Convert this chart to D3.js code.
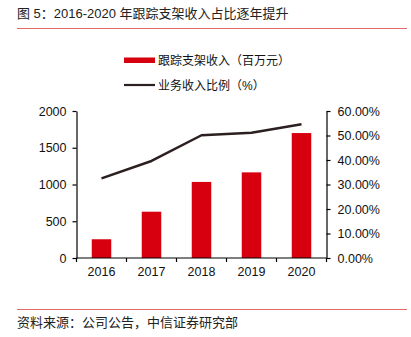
<!DOCTYPE html>
<html><head><meta charset="utf-8">
<script src="https://cdn.jsdelivr.net/npm/d3@7"></script>
<style>body{margin:0;background:#fff}svg{display:block}</style>
</head><body>
<svg id="c" width="411" height="337"></svg>
<script>
const years = ["2016","2017","2018","2019","2020"];
const revenue = [255, 630, 1035, 1165, 1700];
const share = [0.325, 0.396, 0.501, 0.511, 0.546];
const leftTicks = [0, 500, 1000, 1500, 2000];
const rightTicks = [0, 0.1, 0.2, 0.3, 0.4, 0.5, 0.6];
const titleText = "图 5：2016-2020 年跟踪支架收入占比逐年提升";
const sourceText = "资料来源：公司公告，中信证券研究部";
const legendLabels = ["跟踪支架收入（百万元）", "业务收入比例（%）"];

const svg = d3.select("#c");
const latin = "'Liberation Sans', Arial, 'Noto Sans CJK SC', sans-serif";
const cjk = "'Liberation Sans', 'Noto Sans CJK SC', sans-serif";
const red = "#d7000f", dark = "#2b1f1f";

// title
svg.append("text").attr("x", 17).attr("y", 18).attr("font-family", cjk)
  .attr("font-size", 13).attr("fill", "#222").text(titleText);
svg.append("line").attr("x1", 17).attr("x2", 407).attr("y1", 28.5).attr("y2", 28.5)
  .attr("stroke", "#e26a6a").attr("stroke-width", 1);

// footer
svg.append("line").attr("x1", 17).attr("x2", 407).attr("y1", 309.5).attr("y2", 309.5)
  .attr("stroke", "#e26a6a").attr("stroke-width", 1);
svg.append("text").attr("x", 17).attr("y", 327).attr("font-family", cjk)
  .attr("font-size", 13).attr("fill", "#222").text(sourceText);

// scales
const x = d3.scaleBand().domain(years).range([76.5, 326.5]).paddingInner(0.61).paddingOuter(0.305);
const xb = d3.scaleBand().domain(years).range([76.5, 326.5]);
const yL = d3.scaleLinear().domain([0, 2000]).range([258, 111]);
const yR = d3.scaleLinear().domain([0, 0.6]).range([258, 111]);

// bars
svg.append("g").selectAll("rect").data(years).join("rect")
  .attr("x", d => x(d)).attr("width", x.bandwidth())
  .attr("y", (d, i) => yL(revenue[i])).attr("height", (d, i) => yL(0) - yL(revenue[i]))
  .attr("fill", red);

// line
const line = d3.line().x((d, i) => xb(years[i]) + xb.bandwidth() / 2).y(d => yR(d));
svg.append("path").datum(share).attr("d", line).attr("fill", "none")
  .attr("stroke", dark).attr("stroke-width", 2.5).attr("stroke-linejoin", "round");

// axes
function styleAxis(g) {
  g.selectAll("path,line").attr("stroke", "#000").attr("stroke-width", 1.2);
  g.selectAll("text").attr("font-family", latin).attr("font-size", 12.5).attr("fill", "#111");
}
const aL = svg.append("g").attr("transform", "translate(76.5,0)")
  .call(d3.axisLeft(yL).tickValues(leftTicks).tickSizeInner(4).tickSizeOuter(0).tickPadding(6).tickFormat(d3.format("d")));
styleAxis(aL);
const aR = svg.append("g").attr("transform", "translate(326.5,0)")
  .call(d3.axisRight(yR).tickValues(rightTicks).tickSizeInner(4).tickSizeOuter(0).tickPadding(7).tickFormat(d3.format(".2%")));
styleAxis(aR);
const aB = svg.append("g").attr("transform", "translate(0,258)")
  .call(d3.axisBottom(xb).tickSize(0).tickPadding(9));
styleAxis(aB);
aB.select(".domain").attr("d", "M76.5,0H326.5");
// boundary ticks on category axis
aB.selectAll("line.bt").data(d3.range(years.length + 1)).join("line").attr("class", "bt")
  .attr("x1", i => 76.5 + i * xb.step()).attr("x2", i => 76.5 + i * xb.step())
  .attr("y1", 0).attr("y2", 4).attr("stroke", "#000").attr("stroke-width", 1.2);

// legend
const lg = svg.append("g");
lg.append("rect").attr("x", 124).attr("y", 57.5).attr("width", 31).attr("height", 5.5).attr("fill", red);
lg.append("text").attr("x", 158).attr("y", 64.5).attr("font-family", cjk).attr("font-size", 12)
  .attr("fill", "#111").text(legendLabels[0]);
lg.append("line").attr("x1", 124).attr("x2", 155).attr("y1", 85).attr("y2", 85)
  .attr("stroke", dark).attr("stroke-width", 2.2);
lg.append("text").attr("x", 158).attr("y", 89.5).attr("font-family", cjk).attr("font-size", 12)
  .attr("fill", "#111").text(legendLabels[1]);
</script>
</body></html>
